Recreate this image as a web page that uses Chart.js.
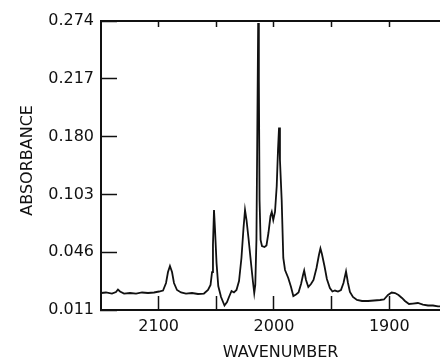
<!DOCTYPE html>
<html>
<head>
<meta charset="utf-8">
<script src="https://cdn.jsdelivr.net/npm/chart.js@4.4.1/dist/chart.umd.min.js"></script>
<style>
  html, body { margin: 0; padding: 0; background: #fff; }
  #wrap { width: 440px; height: 361px; position: relative; }
</style>
</head>
<body>
<div id="wrap"><canvas id="spectrum"></canvas></div>
<script>
// wavenumber (cm-1) of each traced point
const wavenumber = [
  2150, 2145.7, 2140.5, 2137, 2135.3, 2133.5, 2130, 2124.8, 2119.6, 2114.4,
  2109.2, 2104, 2099.7, 2096.2, 2093.6, 2091.9, 2090.2, 2088.4, 2086.7, 2084.1,
  2080.6, 2076.3, 2071.1, 2065.9, 2060.7, 2057.2, 2055.0, 2053.7, 2052.9, 2052.0,
  2051.1, 2049.8, 2048.3, 2045.9, 2042.9, 2040.7, 2039, 2036.8, 2034.7, 2032.5,
  2030.3, 2028.2, 2026.4, 2025.1, 2023.8, 2022.1, 2020.0, 2018.2, 2017.1, 2016.2,
  2015.2, 2014.5, 2013.7, 2013.1, 2012.5, 2011.6, 2010.4, 2008.2, 2006.5, 2004.8,
  2003, 2001.9, 2000.6, 1999.1, 1997.6, 1996.5, 1995.6, 1994.8, 1993.3, 1991.9,
  1990.4, 1987.6, 1985.2, 1983.2, 1980.9, 1978.7, 1976.5, 1974.8, 1973.8, 1972.2,
  1970.2, 1967.9, 1965.7, 1963.1, 1961.0, 1959.7, 1958.4, 1956.2, 1954.1, 1951.5,
  1949.3, 1947.1, 1944.5, 1941.9, 1939.7, 1937.5, 1935.8, 1934.1, 1931.5, 1928,
  1923.6, 1918.4, 1913.2, 1908, 1904.6, 1901.1, 1897.9, 1895, 1892, 1889,
  1886.4, 1882.9, 1879.5, 1875.2, 1870.8, 1866.4, 1862.1, 1857.7, 1856
];

// absorbance, in tick steps of the (unevenly labelled) y axis: 0 = 0.011 ... 5 = 0.274
const absorbance = [
  0.294, 0.303, 0.285, 0.311, 0.355, 0.320, 0.285, 0.294, 0.285, 0.303,
  0.294, 0.303, 0.320, 0.337, 0.467, 0.657, 0.761, 0.657, 0.467, 0.346,
  0.303, 0.285, 0.294, 0.277, 0.285, 0.346, 0.433, 0.657, 1.125, 1.730,
  1.384, 0.813, 0.415, 0.225, 0.078, 0.138, 0.225, 0.329, 0.303, 0.346,
  0.502, 0.900, 1.419, 1.730, 1.557, 1.246, 0.830, 0.484, 0.294, 0.433,
  1.211, 2.941, 4.965, 3.979, 1.903, 1.211, 1.107, 1.090, 1.116, 1.332,
  1.626, 1.696, 1.557, 1.696, 2.145, 2.768, 3.157, 2.595, 1.903, 0.900,
  0.692, 0.554, 0.398, 0.242, 0.268, 0.303, 0.450, 0.606, 0.683, 0.519,
  0.398, 0.450, 0.519, 0.727, 0.952, 1.064, 0.969, 0.761, 0.536, 0.381,
  0.320, 0.337, 0.320, 0.346, 0.467, 0.666, 0.467, 0.311, 0.225, 0.173,
  0.156, 0.156, 0.164, 0.173, 0.182, 0.260, 0.303, 0.294, 0.260, 0.208,
  0.156, 0.104, 0.112, 0.121, 0.095, 0.078, 0.078, 0.061, 0.061
];

const yTickLabels = ["0.011", "0.046", "0.103", "0.180", "0.217", "0.274"];
const xTickValues = [1900, 1950, 2000, 2050, 2100];
const xLabeledTicks = [1900, 2000, 2100];

const ink = "#111";
const font = { family: "DejaVu Sans", size: 16 };

const points = wavenumber.map((w, i) => ({ x: w, y: absorbance[i] }));

new Chart(document.getElementById("spectrum"), {
  type: "line",
  data: {
    datasets: [{
      data: points,
      borderColor: ink,
      borderWidth: 1.8,
      pointRadius: 0,
      tension: 0,
      fill: false,
    }],
  },
  options: {
    responsive: true,
    maintainAspectRatio: false,
    animation: false,
    events: [],
    layout: { padding: 0 },
    plugins: { legend: { display: false }, tooltip: { enabled: false } },
    scales: {
      x: {
        type: "linear",
        position: "bottom",
        reverse: true,
        min: 1856,
        max: 2150,
        afterBuildTicks: (s) => { s.ticks = xTickValues.map((v) => ({ value: v })); },
        afterFit: (s) => { s.height = 51; },
        ticks: {
          color: ink,
          font: font,
          padding: 21,
          maxRotation: 0,
          autoSkip: false,
          callback: (v) => (xLabeledTicks.includes(v) ? String(v) : ""),
        },
        grid: { drawOnChartArea: false, tickLength: -14, tickColor: ink, tickWidth: 1.5 },
        border: { display: true, color: ink, width: 2 },
        title: {
          display: true,
          // leading spaces nudge the title a little right, as in the original
          text: "    WAVENUMBER",
          color: ink,
          font: font,
          padding: { top: 0, bottom: -1 },
        },
      },
      x2: {
        type: "linear",
        position: "top",
        reverse: true,
        min: 1856,
        max: 2150,
        afterBuildTicks: (s) => { s.ticks = xTickValues.map((v) => ({ value: v })); },
        afterFit: (s) => { s.height = 21; },
        ticks: { display: false },
        grid: { drawOnChartArea: false, tickLength: -6, tickColor: ink, tickWidth: 1.5 },
        border: { display: true, color: ink, width: 2 },
      },
      y: {
        type: "linear",
        min: 0,
        max: 5,
        afterBuildTicks: (s) => { s.ticks = yTickLabels.map((_, i) => ({ value: i })); },
        afterFit: (s) => {
          s.width = 101;
          // the large label padding compensates the inward ticks; keep it out of the layout
          s.paddingTop = 10;
          s.paddingBottom = 10;
        },
        ticks: {
          color: ink,
          font: font,
          padding: 23,
          callback: (v) => yTickLabels[v],
        },
        grid: { drawOnChartArea: false, tickLength: -16, tickColor: ink, tickWidth: 1.5 },
        border: { display: true, color: ink, width: 2 },
        title: {
          display: true,
          text: "  ABSORBANCE",
          color: ink,
          font: font,
          padding: { top: 18, bottom: 0 },
        },
      },
    },
  },
});
</script>
</body>
</html>
